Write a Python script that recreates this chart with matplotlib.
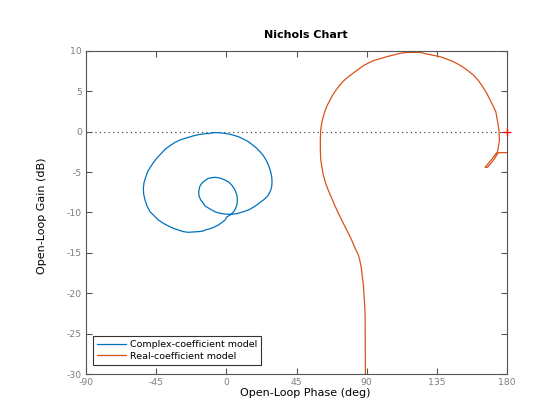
import matplotlib
matplotlib.use("Agg")
import matplotlib.pyplot as plt

plt.rcParams["axes.unicode_minus"] = False

# ---- data (phase in deg, gain in dB) ----
blue_phase = [-8.96, -5.11, -0.83, 3.44, 7.72, 10.92, 14.13, 16.91, 19.48, 21.62, 23.75,
              25.47, 26.96, 28.24, 29.10, 29.31, 29.10, 28.24, 26.96, 25.47, 23.75, 21.62,
              19.48, 16.91, 14.13, 10.92, 7.72, 5.15, 3.01,
              -0.83, -4.04, -6.82, -9.39, -11.53, -13.66,
              -14.73, -16.44, -17.51, -17.72, -17.08, -15.80, -14.09, -12.17,
              -11.53, -9.39, -7.25, -4.04, -0.83, 1.73, 3.44, 4.94, 6.01, 6.86, 7.08,
              6.86, 6.01, 4.73, 3.01,
              0.30, -0.83, -2.97, -5.11, -7.68, -10.46, -13.66,
              -14.73, -17.94, -21.15, -24.36, -27.56, -30.77, -33.98, -37.19, -40.39,
              -43.60, -46.38, -48.94, -50.87, -52.15, -53.00, -53.22, -52.79, -51.72,
              -50.44, -48.94, -46.80, -44.66, -42.10, -39.32, -36.11, -32.91, -29.70,
              -26.49, -22.21, -17.94, -13.66, -10.46, -8.96]
blue_gain = [-0.11, -0.11, -0.20, -0.36, -0.61, -0.90, -1.23, -1.64, -2.05, -2.47, -2.96,
             -3.50, -4.12, -4.82, -5.56, -6.18, -6.80, -7.34, -7.83, -8.16, -8.45, -8.74,
             -9.07, -9.40, -9.69, -9.90, -10.10, -10.19, -10.23,
             -10.19, -10.10, -9.94, -9.69, -9.44, -9.20,
             -8.86, -8.45, -7.96, -7.42, -6.80, -6.39, -6.10, -5.85,
             -5.77, -5.69, -5.64, -5.73, -5.98, -6.26, -6.59, -7.01, -7.42, -7.92, -8.45,
             -8.99, -9.48, -9.90, -10.23,
             -10.56, -10.93, -11.26, -11.55, -11.80, -12.01, -12.17,
             -12.29, -12.37, -12.41, -12.45, -12.37, -12.17, -11.96, -11.67, -11.34,
             -10.93, -10.39, -9.90, -9.20, -8.45, -7.75, -7.01, -6.31, -5.64,
             -4.94, -4.45, -3.83, -3.29, -2.76, -2.18, -1.72, -1.31, -1.02,
             -0.82, -0.57, -0.36, -0.24, -0.20, -0.11]

orange_phase = [89.2, 89.0, 88.8, 88.3, 87.9, 87.2, 86.6, 85.8, 84.7,
                82.6, 80.4, 78.3, 76.1, 74.0, 71.9, 69.7, 67.6, 65.5, 63.7, 62.2, 61.2,
                60.5, 60.3, 60.3, 60.5,
                61.0, 61.6, 62.5, 63.5, 64.8, 66.5, 68.2, 70.4, 72.5, 75.1, 78.3, 81.5,
                84.7, 87.9, 91.1, 94.3, 98.6, 102.9, 107.1, 111.4, 115.7,
                120.0, 124.2, 128.5, 132.8, 137.1, 141.3, 145.6, 148.8, 152.0, 155.2,
                158.4, 161.7, 164.4, 167.0, 169.2, 171.3, 172.8, 173.8, 174.5, 174.9,
                175.1, 174.9, 174.5, 173.9,
                172.3, 170.2, 168.1, 165.9, 167.4, 169.6, 171.7, 173.4, 174.5, 178.0, 182.0]
orange_gain = [-30.5, -23.10, -21.66, -20.22, -18.98, -17.95, -16.92, -16.09, -15.26,
               -14.44, -13.41, -12.58, -11.75, -10.93, -10.10, -9.20, -8.25, -7.30, -6.39,
               -5.36, -4.32, -3.29, -2.26, -1.02, 0.22,
               0.84, 1.46, 2.07, 2.69, 3.31, 3.93, 4.55, 5.17, 5.71, 6.28, 6.82, 7.28,
               7.73, 8.18, 8.51, 8.80, 9.05, 9.30, 9.50, 9.71, 9.83,
               9.83, 9.83, 9.63, 9.46, 9.30, 9.01, 8.68, 8.35, 7.98, 7.52,
               7.03, 6.33, 5.58, 4.76, 3.93, 3.11, 2.49, 1.46, 0.63, 0.01,
               -1.02, -1.40, -1.85, -2.47,
               -2.88, -3.42, -3.91, -4.41, -4.41, -3.91, -3.42, -2.88, -2.59, -2.59, -2.59]

series_labels = ["Complex-coefficient model", "Real-coefficient model"]
x_ticks = [-90, -45, 0, 45, 90, 135, 180]
y_ticks = [-30, -25, -20, -15, -10, -5, 0, 5, 10]
critical_point = (180, 0)

# ---- figure ----
W, H = 560, 420
fig = plt.figure(figsize=(W / 100, H / 100), dpi=100)
ax = fig.add_axes([86 / W, 1 - 374 / H, (507 - 86) / W, (374 - 51) / H])

blue = "#0072BD"
orange = "#D95319"
ax.plot(blue_phase, blue_gain, color=blue, lw=0.9, label=series_labels[0])
ax.plot(orange_phase, orange_gain, color=orange, lw=0.9, label=series_labels[1])
ax.axhline(0, color="#333333", lw=0.8, ls=(0, (1, 3)), zorder=1)
ax.plot([critical_point[0]], [critical_point[1]], marker="+", color="red",
        markersize=6, mew=0.9, clip_on=False, zorder=5)

ax.set_xlim(-90, 180)
ax.set_ylim(-30, 10)
ax.set_xticks(x_ticks)
ax.set_yticks(y_ticks)
ax.tick_params(direction="in", length=4, width=0.8, top=True, right=True,
               colors="#555555", labelcolor="#7f7f7f", labelsize=6.7, pad=3)
for s in ax.spines.values():
    s.set_color("#555555")
    s.set_linewidth(0.8)

leg = ax.legend(loc="lower left", bbox_to_anchor=(0.0166, 0.028), borderaxespad=0,
                fontsize=6.8, frameon=True, fancybox=False, edgecolor="black",
                borderpad=0.45, handlelength=3.0, handletextpad=0.45,
                labelspacing=0.3)
leg.get_frame().set_linewidth(0.8)

fig.text(305.7 / W, 1 - 35 / H, "Nichols Chart", ha="center", va="center",
         fontsize=8, fontweight="bold")
fig.text(305.7 / W, 1 - 393 / H, "Open-Loop Phase (deg)", ha="center",
         va="center", fontsize=8)
fig.text(41.7 / W, 1 - 216 / H, "Open-Loop Gain (dB)", ha="center",
         va="center", rotation=90, fontsize=8)

fig.savefig("out.png", dpi=100)
